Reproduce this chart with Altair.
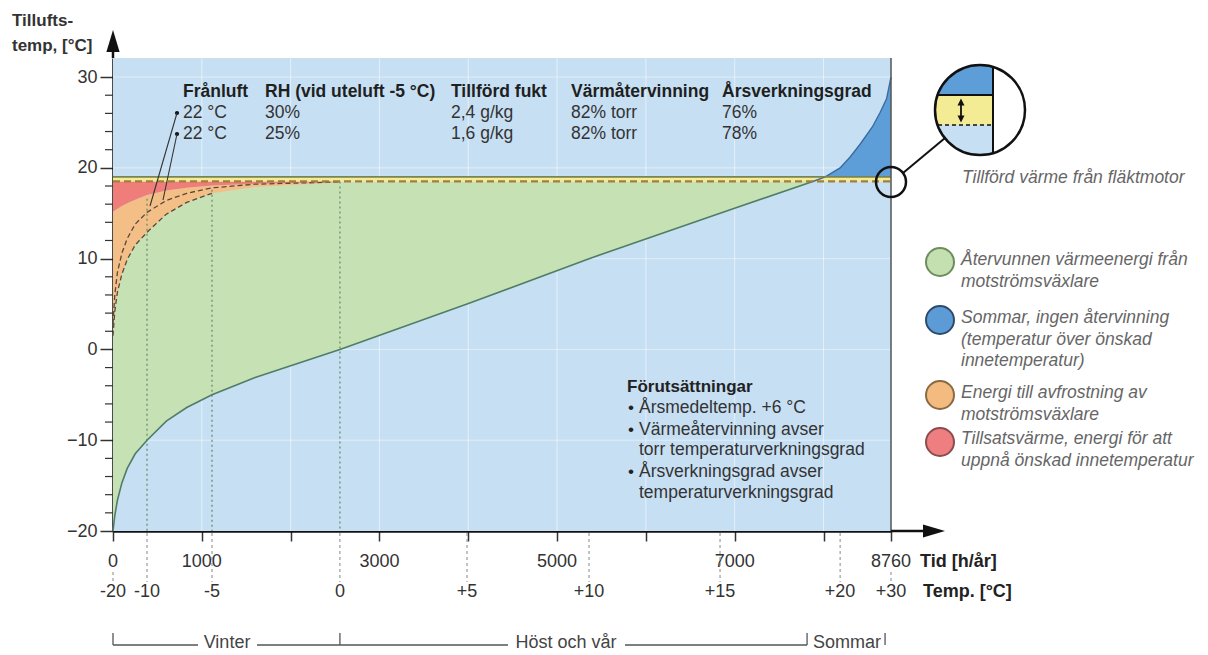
import altair as alt
import pandas as pd

FONT = "Liberation Sans"
OX, OY = 113, 58          # page position of the plot origin
W, H = 778, 473           # plot area
Y_MIN, Y_MAX = -20, 32.1
SET_T = 18.5              # desired supply temperature
FAN_T = 19.0              # + heat from fan motor

# ---------------- data ----------------
winter_h   = [0, 20, 50, 100, 160, 250, 383, 600, 830, 1115, 1600, 2555]
outdoor_w  = [-20, -18.3, -16.6, -14.7, -13.1, -11.5, -10.0, -7.9, -6.4, -5.0, -3.1, 0.0]
green_top  = [1.5, 4.2, 6.3, 8.3, 9.9, 11.5, 12.9, 14.9, 16.2, 17.2, 17.9, 18.4]
red_bottom = [15.2, 15.3, 15.5, 15.8, 16.1, 16.5, 17.0, 17.5, 17.8, 18.05, 18.25, 18.45]
dash_curve = [2.8, 6.0, 8.5, 10.6, 12.2, 13.8, 15.1, 16.4, 17.2, 17.8, 18.2, 18.45]

mid_h      = [3986, 5360, 6835, 7880]
outdoor_m  = [5.0, 10.0, 15.0, 18.5]

summer_h   = [7880, 8020, 8187, 8300, 8412, 8550, 8637, 8710, 8760]
outdoor_s  = [18.5, 19.0, 20.0, 21.2, 22.6, 24.5, 26.1, 27.6, 30.0]

hour_ticks  = [0, 1000, 2000, 3000, 4000, 5000, 6000, 7000, 8000, 8760]
hour_labels = ["0", "1000", "", "3000", "", "5000", "", "7000", "", "8760"]
temp_h      = [0, 383, 1115, 2555, 3986, 5360, 6835, 8187, 8760]
temp_labels = ["-20", "-10", "-5", "0", "+5", "+10", "+15", "+20", "+30"]
y_ticks     = [-20, -10, 0, 10, 20, 30]
minor_y     = [v for v in range(-18, 30, 2) if v % 10 != 0]
grid_h      = [1000, 2000, 3000, 4000, 5000, 6000, 7000, 8000]
marker_h    = [383, 1115, 2555]
marker_top  = [16.6, 17.6, 18.5]

table_header = ["Frånluft", "RH (vid uteluft -5 °C)", "Tillförd fukt", "Värmåtervinning", "Årsverkningsgrad"]
table_rows = [["22 °C", "30%", "2,4 g/kg", "82% torr", "76%"],
              ["22 °C", "25%", "1,6 g/kg", "82% torr", "78%"]]
cond_title = "Förutsättningar"
cond_lines = [("•", "Årsmedeltemp. +6 °C"), ("•", "Värmeåtervinning avser"),
              ("", "torr temperaturverkningsgrad"), ("•", "Årsverkningsgrad avser"),
              ("", "temperaturverkningsgrad")]
legend_items = [
    ("#c5e0b0", "#6d8d5c", ["Återvunnen värmeenergi från", "motströmsväxlare"]),
    ("#5d9bd6", "#2d4b6c", ["Sommar, ingen återvinning", "(temperatur över önskad", "innetemperatur)"]),
    ("#f4bb80", "#8a6a42", ["Energi till avfrostning av", "motströmsväxlare"]),
    ("#ef7e80", "#8a4c4c", ["Tillsatsvärme, energi för att", "uppnå önskad innetemperatur"]),
]
fan_note = "Tillförd värme från fläktmotor"
season_names = ["Vinter", "Höst och vår", "Sommar"]
season_label_h = [1284, 5101, 8265]
bracket_ticks_h = [0, 2555, 7815, 8693]
bracket_segments = [(0, 957), (1621, 4448), (5765, 7815)]

# colours
BG = "#c7dff3"
GREEN = "#c6e2b5"
ORANGE = "#f4be87"
RED = "#ef7d7a"
SUMMER = "#5d9dd8"
YELLOW = "#f3ec94"

ONE = pd.DataFrame({"k": [0]})
xs = alt.Scale(domain=[0, 8760], nice=False, zero=False)
ys = alt.Scale(domain=[Y_MIN, Y_MAX], nice=False, zero=False)

X_AXIS = alt.Axis(values=hour_ticks, labels=False, tickSize=10, tickWidth=1.5, tickColor="#333",
                  domainColor="#111", domainWidth=2.5, grid=False, title=None)
Y_AXIS = alt.Axis(values=y_ticks, tickSize=13, tickWidth=1.5, tickColor="#333", domainColor="#111",
                  domainWidth=2.5, grid=False, title=None, labelFontSize=18, labelColor="#333",
                  labelFont=FONT, labelPadding=3, format="d")


def X(f):
    return alt.X(f"{f}:Q", scale=xs, axis=X_AXIS)


def Y(f):
    return alt.Y(f"{f}:Q", scale=ys, axis=Y_AXIS)


def T(s, x, y, size=16, weight="normal", style="normal", color="#222", align="left"):
    return alt.Chart(ONE).mark_text(text=s, font=FONT, fontSize=size, fontWeight=weight,
                                    fontStyle=style, color=color, align=align,
                                    baseline="middle").encode(
        x=alt.value(x - OX), y=alt.value(y - OY))


def R(x1, y1, x2, y2, color="#111", w=1.5, dash=None):
    kw = dict(color=color, strokeWidth=w)
    if dash:
        kw["strokeDash"] = dash
    return alt.Chart(ONE).mark_rule(**kw).encode(
        x=alt.value(x1 - OX), y=alt.value(y1 - OY), x2=alt.value(x2 - OX), y2=alt.value(y2 - OY))


def S(x, y, shape, size, fill=None, stroke=None, sw=1.5):
    kw = dict(shape=shape, size=size, opacity=1)
    if fill:
        kw.update(filled=True, fill=fill, fillOpacity=1)
    else:
        kw.update(filled=False)
    if stroke:
        kw.update(stroke=stroke, strokeWidth=sw)
    else:
        kw.update(strokeWidth=0)
    return alt.Chart(ONE).mark_point(**kw).encode(x=alt.value(x - OX), y=alt.value(y - OY))


layers = []

# background
layers.append(alt.Chart(ONE).mark_rect(color=BG).encode(
    x=alt.value(0), x2=alt.value(W), y=alt.value(0), y2=alt.value(H)))
# faint grid
layers.append(alt.Chart(pd.DataFrame({"h": grid_h})).mark_rule(color="white", opacity=0.5, strokeWidth=1).encode(x=X("h")))
layers.append(alt.Chart(pd.DataFrame({"v": [-10, 0, 10, 20, 30]})).mark_rule(color="white", opacity=0.45, strokeWidth=1).encode(y=Y("v")))

# green (recovered)
df_green = pd.DataFrame({"h": winter_h + mid_h, "lo": outdoor_w + outdoor_m,
                         "hi": green_top + [SET_T] * len(mid_h)})
layers.append(alt.Chart(df_green).mark_area(color=GREEN, opacity=1).encode(x=X("h"), y=Y("lo"), y2="hi"))

df_w = pd.DataFrame({"h": winter_h, "g": green_top, "r": red_bottom, "d": dash_curve,
                     "s": [SET_T] * len(winter_h)})
layers.append(alt.Chart(df_w).mark_area(color=ORANGE, opacity=1).encode(x=X("h"), y=Y("g"), y2="r"))
layers.append(alt.Chart(df_w).mark_area(color=RED, opacity=1).encode(x=X("h"), y=Y("r"), y2="s"))

# summer
df_s = pd.DataFrame({"h": summer_h[1:], "t": outdoor_s[1:], "f": [FAN_T] * (len(summer_h) - 1)})
layers.append(alt.Chart(df_s).mark_area(color=SUMMER, opacity=1).encode(x=X("h"), y=Y("t"), y2="f"))

# fan heat band
df_c = pd.DataFrame({"h": [0, 8760], "s": [SET_T, SET_T], "f": [FAN_T, FAN_T]})
layers.append(alt.Chart(df_c).mark_area(color=YELLOW, opacity=1).encode(x=X("h"), y=Y("s"), y2="f"))

# dotted markers in plot
df_mk = pd.DataFrame({"h": marker_h, "top": marker_top})
layers.append(alt.Chart(df_mk).mark_rule(color="#6d8d6e", strokeDash=[2, 3], strokeWidth=1.3).encode(
    x=X("h"), y=Y("top"), y2=alt.value(H)))

# dashed curves of the two cases
layers.append(alt.Chart(df_w).mark_line(color="#5a4a3a", strokeDash=[5, 3], strokeWidth=1.3).encode(x=X("h"), y=Y("d")))
layers.append(alt.Chart(df_w.iloc[:10]).mark_line(color="#5a4a3a", strokeDash=[5, 3], strokeWidth=1.3).encode(x=X("h"), y=Y("g")))

# outdoor temperature duration curve
df_o = pd.DataFrame({"h": winter_h + mid_h, "t": outdoor_w + outdoor_m})
layers.append(alt.Chart(df_o).mark_line(color="#4f7d66", strokeWidth=1.6).encode(x=X("h"), y=Y("t")))
df_os = pd.DataFrame({"h": summer_h, "t": outdoor_s})
layers.append(alt.Chart(df_os).mark_line(color="#3a6d9e", strokeWidth=1.4).encode(x=X("h"), y=Y("t")))

# setpoint lines
layers.append(alt.Chart(df_c).mark_line(color="#7a8352", strokeWidth=1.8).encode(x=X("h"), y=Y("f")))
layers.append(alt.Chart(df_c).mark_line(color="#a47f3a", strokeWidth=2.2, strokeDash=[7, 4]).encode(x=X("h"), y=Y("s")))

# right border
layers.append(alt.Chart(ONE).mark_rule(color="#555", strokeWidth=1.5).encode(
    x=alt.value(W), y=alt.value(0), y2=alt.value(H)))

# minor y ticks
layers.append(alt.Chart(pd.DataFrame({"v": minor_y})).mark_rule(color="#333", strokeWidth=1.2).encode(
    y=Y("v"), x=alt.value(-8), x2=alt.value(0)))

# axis arrows
UP = "M 0 -1 L 0.6 1 L -0.6 1 Z"
RIGHT = "M 1 0 L -1 -0.6 L -1 0.6 Z"
layers.append(R(113, 58, 113, 48, w=2.5))
layers.append(S(113, 41, UP, 484, fill="#111"))
layers.append(R(891, 531, 925, 531, w=2.5))
layers.append(S(934, 531, RIGHT, 484, fill="#111"))

# x tick labels and temperature labels
layers.append(alt.Chart(pd.DataFrame({"h": hour_ticks, "l": hour_labels})).mark_text(
    font=FONT, fontSize=18, color="#333", baseline="middle").encode(
    x=X("h"), y=alt.value(562 - OY), text="l:N"))
df_t = pd.DataFrame({"h": temp_h, "l": temp_labels})
layers.append(alt.Chart(df_t.iloc[1:-1]).mark_rule(color="#888", strokeDash=[3, 3], strokeWidth=1).encode(
    x=X("h"), y=alt.value(H + 2), y2=alt.value(582 - OY)))
layers.append(alt.Chart(df_t.iloc[[0, -1]]).mark_rule(color="#888", strokeDash=[3, 3], strokeWidth=1).encode(
    x=X("h"), y=alt.value(572 - OY), y2=alt.value(582 - OY)))
layers.append(alt.Chart(df_t).mark_text(font=FONT, fontSize=18, color="#333", baseline="middle").encode(
    x=X("h"), y=alt.value(592 - OY), text="l:N"))
layers.append(T("Tid [h/år]", 920, 562, size=18, weight="bold", color="#222"))
layers.append(T("Temp. [°C]", 923, 592, size=18, weight="bold", color="#222"))

# y title
layers.append(T("Tillufts-", 12, 21, size=17, weight="bold", color="#333"))
layers.append(T("temp, [°C]", 12, 46, size=17, weight="bold", color="#333"))

# table
col_x = [183, 265, 451, 571, 722]
for s, x in zip(table_header, col_x):
    layers.append(T(s, x, 92, size=17.5, weight="bold", color="#1f1f1f"))
for row, y in zip(table_rows, [113, 134]):
    for s, x in zip(row, col_x):
        layers.append(T(s, x, y, size=17.5, color="#333"))
    layers.append(S(177, y, "circle", 18, fill="#111"))

# leader lines from the table to the curves
layers.append(R(177, 113, 150, 206, color="#333", w=1.1))
layers.append(R(177, 134, 163, 200, color="#333", w=1.1))

# conditions
layers.append(T(cond_title, 627, 387, size=17, weight="bold", color="#222"))
for (b, s), y in zip(cond_lines, [408, 430, 450, 472, 493]):
    if b:
        layers.append(T(b, 628, y, size=17, color="#222"))
    layers.append(T(s, 639, y, size=17.5, color="#333"))

# magnifier
CX, CY = 980, 110
TOP = "M -0.943 -0.333 A 1 1 0 0 1 0.29 -0.957 L 0.29 -0.333 Z"
MID = "M -0.943 -0.333 L 0.29 -0.333 L 0.29 0.333 L -0.943 0.333 A 1 1 0 0 1 -0.943 -0.333 Z"
BOT = "M 0.29 0.333 L 0.29 0.957 A 1 1 0 0 1 -0.943 0.333 Z"
layers.append(S(CX, CY, TOP, 8100, fill=SUMMER))
layers.append(S(CX, CY, MID, 8100, fill=YELLOW))
layers.append(S(CX, CY, BOT, 8100, fill=BG))
layers.append(R(993, 67, 993, 153, w=2))
layers.append(R(938, 95, 993, 95, w=1.8))
layers.append(R(938, 125, 993, 125, w=1.5, dash=[4, 3]))
layers.append(R(961, 104, 961, 117, w=1.8))
layers.append(S(961, 102, "M 0 -1 L 1 1 L -1 1 Z", 49, fill="#111"))
layers.append(S(961, 119, "M 0 1 L 1 -1 L -1 -1 Z", 49, fill="#111"))
layers.append(S(CX, CY, "circle", 8100, stroke="#111", sw=2.5))
layers.append(S(891, 182, "circle", 900, stroke="#111", sw=2.5))
layers.append(R(903, 173, 945, 138, w=2))
layers.append(T(fan_note, 962, 178, size=17.5, style="italic", color="#666"))

# legend
for (fill, stroke, lines), cy, ty in zip(legend_items, [262, 320, 395, 442], [260, 318, 393, 439]):
    layers.append(S(940, cy, "circle", 784, fill=fill, stroke=stroke, sw=2))
    for i, s in enumerate(lines):
        layers.append(T(s, 961, ty + 21.5 * i, size=17.5, style="italic", color="#666"))

# season bracket
df_seg = pd.DataFrame(bracket_segments, columns=["a", "b"])
layers.append(alt.Chart(df_seg).mark_rule(color="#555", strokeWidth=1.3).encode(
    x=X("a"), x2="b", y=alt.value(645 - OY)))
layers.append(alt.Chart(pd.DataFrame({"h": bracket_ticks_h})).mark_rule(color="#555", strokeWidth=1.3).encode(
    x=X("h"), y=alt.value(633 - OY), y2=alt.value(645 - OY)))
layers.append(alt.Chart(pd.DataFrame({"h": season_label_h, "l": season_names})).mark_text(
    font=FONT, fontSize=18, color="#444", baseline="middle").encode(
    x=X("h"), y=alt.value(643 - OY), text="l:N"))

chart = alt.layer(*layers).properties(
    width=W, height=H,
    autosize=alt.AutoSizeParams(type="none"),
    padding={"left": OX - 8, "top": OY - 8, "right": 309, "bottom": 122},
).configure_view(stroke=None)

chart.save("out.html", embed_options={"renderer": "svg", "actions": False})
